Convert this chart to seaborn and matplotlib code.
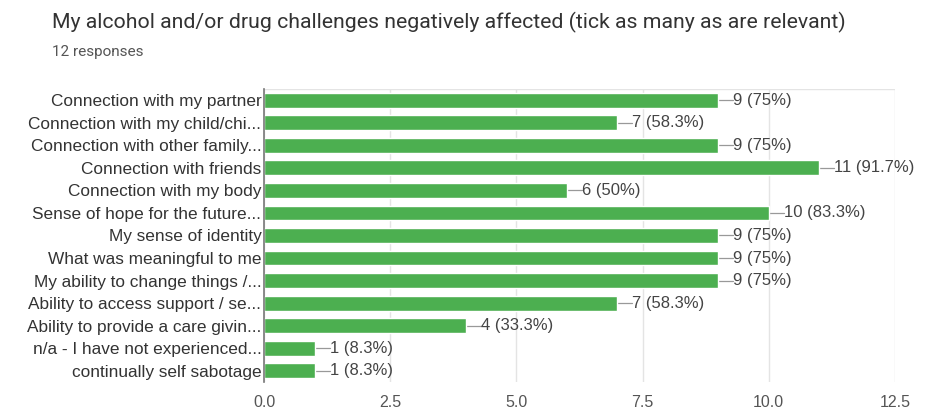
import matplotlib
matplotlib.use("Agg")
import matplotlib.pyplot as plt
import seaborn as sns
import pandas as pd

# Survey responses (12 respondents)
categories = [
    "Connection with my partner",
    "Connection with my child/chi...",
    "Connection with other family...",
    "Connection with friends",
    "Connection with my body",
    "Sense of hope for the future...",
    "My sense of identity",
    "What was meaningful to me",
    "My ability to change things /...",
    "Ability to access support / se...",
    "Ability to provide a care givin...",
    "n/a - I have not experienced...",
    "continually self sabotage",
]
counts = [9, 7, 9, 11, 6, 10, 9, 9, 9, 7, 4, 1, 1]
percent_labels = ["75%", "58.3%", "75%", "91.7%", "50%", "83.3%", "75%",
                  "75%", "75%", "58.3%", "33.3%", "8.3%", "8.3%"]
x_ticks = [0.0, 2.5, 5.0, 7.5, 10.0, 12.5]

df = pd.DataFrame({"option": categories, "count": counts})

sns.set_style("white")
plt.rcParams["font.family"] = ["Liberation Sans", "DejaVu Sans"]

fig = plt.figure(figsize=(9.31, 4.12), dpi=100)
ax = fig.add_axes([0.2836, 0.0728, 0.6777, 0.7112])

sns.barplot(data=df, y="option", x="count", orient="h", color="#4caf50",
            saturation=1, width=0.66, ax=ax, zorder=3)

ax.set_xlim(0, 12.5)
ax.set_ylim(12.5, -0.5)
ax.set_xticks(x_ticks)
ax.set_xticklabels([f"{t:.1f}" for t in x_ticks], color="#555555", fontsize=11.5)
ax.tick_params(axis="x", length=0, pad=9)
ax.tick_params(axis="y", length=0, pad=2, labelsize=12.4, labelcolor="#333333")
ax.set_xlabel("")
ax.set_ylabel("")
ax.grid(axis="x", color="#e4e4e4", linewidth=1, zorder=0)

for side in ("top", "right", "bottom"):
    ax.spines[side].set_visible(False)
ax.spines["left"].set_color("#777777")
ax.spines["left"].set_linewidth(1.2)
ax.spines["left"].set_zorder(4)
ax.axhline(-0.5, color="#e4e4e4", linewidth=1, zorder=0)

# Value annotations with short leader lines
for i, (c, p) in enumerate(zip(counts, percent_labels)):
    ax.plot([c, c + 0.3], [i, i], color="#999999", linewidth=0.9, zorder=2,
            clip_on=False)
    ax.text(c + 0.3, i, f"{c} ({p})", va="center", ha="left",
            fontsize=12, color="#444444", zorder=5)

fig.text(52 / 931, 1 - 22 / 412,
         "My alcohol and/or drug challenges negatively affected (tick as many as are relevant)",
         fontsize=15.3, color="#333333", va="center", ha="left",
         family=["Roboto", "DejaVu Sans"])
fig.text(52 / 931, 1 - 52 / 412, "12 responses", fontsize=11, color="#555555",
         va="center", ha="left", family=["Roboto", "DejaVu Sans"])

fig.savefig("out.png", dpi=100)
